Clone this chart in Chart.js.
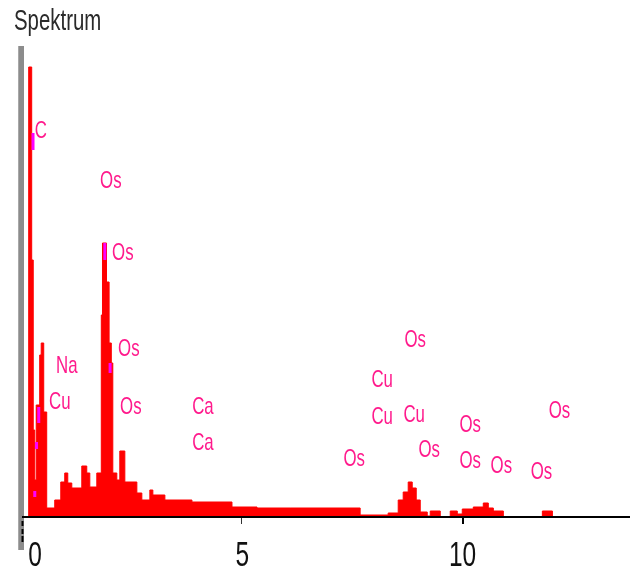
<!DOCTYPE html>
<html>
<head>
<meta charset="utf-8">
<script src="https://cdn.jsdelivr.net/npm/chart.js@4/dist/chart.umd.min.js"></script>
<style>
html,body{margin:0;padding:0;background:#fff;}
#wrap{position:relative;width:636px;height:578px;}
</style>
</head>
<body>
<div id="wrap"><canvas id="c" width="636" height="578"></canvas></div>
<script>
// Spectrum (energy in keV = left edge of each step, counts)
const energy = [0, 0.152, 0.220, 0.255, 0.289, 0.323, 0.402, 0.436, 0.493, 0.561, 0.743, 0.880, 0.970, 1.039, 1.130, 1.357, 1.470, 1.539, 1.698, 1.800, 1.827, 1.918, 1.977, 2.027, 2.061, 2.152, 2.220, 2.334, 2.607, 2.720, 2.902, 2.970, 3.243, 3.857, 4.766, 5.334, 6.084, 7.675, 8.311, 8.539, 8.652, 8.766, 8.857, 8.948, 9.039, 9.198, 9.266, 9.493, 9.720, 9.880, 9.993, 10.243, 10.470, 10.584, 10.698, 10.925, 11.811, 12.039, 13.8];
const counts = [0, 450, 257, 87, 37, 112, 162, 174, 105, 9, 17, 35, 44, 34, 29, 51, 44, 30, 44, 202, 274, 235, 174, 154, 44, 37, 66, 35, 24, 17, 27, 22, 17, 15, 10, 9, 9, 2, 4, 17, 25, 35, 29, 17, 5, 1, 6, 0, 6, 3, 8, 10, 14, 9, 6, 0, 6, 0, 0];

// Element line markers (energy, low count, high count)
const markerEnergy = [0.25, 1.88, 2.00, 0.38, 0.33, 0.29];
const markerLow = [367, 257, 144, 94, 68, 20];
const markerHigh = [384, 274, 154, 110, 75, 26];

// Element labels
const labelText = ["C", "Os", "Os", "Os", "Na", "Cu", "Os", "Ca", "Ca", "Os", "Os", "Cu", "Cu", "Cu", "Os", "Os", "Os", "Os", "Os", "Os"];
const labelEnergy = [0.425, 2.016, 2.289, 2.425, 1.016, 0.857, 2.470, 4.107, 4.107, 7.539, 8.925, 8.175, 8.175, 8.902, 9.243, 10.175, 10.175, 10.880, 11.789, 12.198];
const labelCount = [388, 338, 266, 170, 153, 117, 112, 112, 76, 60, 179, 139, 102, 104, 69, 94, 58, 53, 47, 108];

// Axis
const xTicks = [0, 5, 10];
const xMin = 0, xMax = 13.8, yMax = 471;
const title = "Spektrum";

const spectrumData = energy.map((e, i) => ({x: e, y: counts[i]}));
const markerData = [];
markerEnergy.forEach((e, i) => {
  markerData.push({x: e, y: markerLow[i]});
  markerData.push({x: e, y: markerHigh[i]});
  markerData.push({x: e + 0.0001, y: null});
});

function squeezedText(ctx, text, x, y, font, color, sx, align) {
  ctx.save();
  ctx.font = font;
  ctx.fillStyle = color;
  ctx.textBaseline = 'alphabetic';
  ctx.textAlign = align || 'center';
  ctx.translate(x, y);
  ctx.scale(sx, 1);
  ctx.fillText(text, 0, 0);
  ctx.restore();
}

const decor = {
  id: 'decor',
  afterDatasetsDraw(chart) {
    const ctx = chart.ctx;
    const xs = chart.scales.x, ys = chart.scales.y;
    const base = ys.getPixelForValue(0);
    const x0 = xs.getPixelForValue(0);
    // grey left bar
    ctx.save();
    ctx.fillStyle = '#8c8c8c';
    ctx.fillRect(x0 - 4, ys.getPixelForValue(yMax), 6, 504);
    ctx.fillStyle = '#a8a8a8';
    ctx.fillRect(x0 - 4, ys.getPixelForValue(yMax), 1, 504);
    // x axis line
    ctx.fillStyle = '#000';
    ctx.fillRect(x0, base - 1, xs.right - x0, 2);
    // dashed zero tick
    ctx.fillRect(x0 - 0.5, base + 4, 2, 5);
    ctx.fillRect(x0 - 0.5, base + 12, 2, 5);
    ctx.fillRect(x0 - 0.5, base + 19, 2, 6);
    // ticks
    xTicks.forEach(t => {
      if (t === 0) return;
      const px = xs.getPixelForValue(t);
      ctx.fillStyle = t === 10 ? '#000' : '#333';
      ctx.fillRect(Math.round(px) - 1, base + 1, t === 10 ? 2 : 1, 6);
    });
    ctx.restore();
    // tick labels
    xTicks.forEach(t => {
      let px = xs.getPixelForValue(t);
      if (t === 0) px += 13;
      squeezedText(ctx, String(t), px, base + 49, '35px "Liberation Sans", Arial, sans-serif', '#111', 0.7, 'center');
    });
    // title
    squeezedText(ctx, title, 14, 30, '30px "Liberation Sans", Arial, sans-serif', '#2a2a2a', 0.68, 'left');
    // element labels
    labelText.forEach((t, i) => {
      const px = xs.getPixelForValue(labelEnergy[i]);
      const py = ys.getPixelForValue(labelCount[i]);
      squeezedText(ctx, t, px, py + 8.5, '24px "Liberation Sans", Arial, sans-serif', '#ff1a8c', 0.7, 'center');
    });
  }
};

new Chart(document.getElementById('c'), {
  type: 'line',
  data: {
    datasets: [
      {
        label: 'markers',
        data: markerData,
        borderColor: '#ff00ff',
        borderWidth: 3,
        pointRadius: 0,
        spanGaps: false,
        fill: false,
        order: 0
      },
      {
        label: 'Spektrum',
        data: spectrumData,
        stepped: 'before',
        borderColor: '#ff0000',
        borderWidth: 1,
        backgroundColor: '#ff0000',
        fill: 'origin',
        pointRadius: 0,
        order: 1
      }
    ]
  },
  options: {
    responsive: false,
    animation: false,
    devicePixelRatio: 1,
    layout: {padding: {left: 22, right: 6, top: 46, bottom: 61}},
    plugins: {legend: {display: false}, tooltip: {enabled: false}, title: {display: false}},
    scales: {
      x: {type: 'linear', min: xMin, max: xMax, display: false},
      y: {type: 'linear', min: 0, max: yMax, display: false}
    }
  },
  plugins: [decor]
});
</script>
</body>
</html>
